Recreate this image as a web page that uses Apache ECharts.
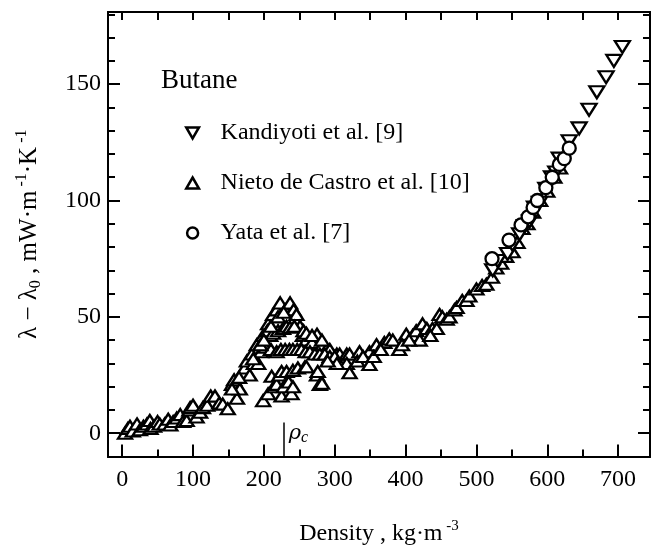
<!DOCTYPE html>
<html><head><meta charset="utf-8">
<script src="https://cdn.jsdelivr.net/npm/echarts@6/dist/echarts.min.js"></script>
<style>html,body{margin:0;padding:0;background:#fff}#c{width:653px;height:551px}</style>
</head><body><div id="c"></div>
<script>
const kandiyoti = [[523,70],[530,74],[544,77],[551,81],[561,85.5],[568,89],[575,91],[582,97],[589,99],[598,105],[606,110],[612,112],[617,118],[631,125.5],[645,131],[659,139],[670,146.5],[683,153],[694,160],[706,166]];
const nieto = [[4,0],[8,2],[11,3],[15,1],[21,4],[25,1.5],[30,3],[35,4],[39,5.5],[40,2],[45,3],[50,5],[53,4],[60,4],[65,6],[68,3.5],[72,5],[77,6.5],[82,8],[86,5],[91,5.5],[95,10],[96,11],[100,12],[105,7],[110,9],[114,11],[120,12],[125,16],[131,16],[137,13],[142,12.5],[149,10.5],[155,21],[158,23],[162,15],[166,19],[170,26],[173,28],[176,31],[180,25],[183,34],[186,30],[190,38],[192,30],[196,35],[199,42],[202,37],[206,47],[209,42],[213,51],[218,53],[223,56],[230,53],[237,56],[242,53],[246,51],[251,46],[255,42],[260,40],[268,39],[275,42.5],[283,38],[288,36],[293,36],[303,34],[307,34],[317,34],[321,34],[335,35],[349,35],[359,38],[370,39],[377,40.5],[382,40],[391,36],[401,42.5],[410,42],[415,44],[420,40],[424,47],[430,45],[438,45],[444,45],[448,51],[452,50],[458,49],[462,50],[469,53],[472,54],[480,57],[486,57],[490,59],[500,62],[508,63.5],[514,64],[522,67],[528,71],[535,73],[542,76],[551,78],[558,82],[565,88],[572,90],[580,95],[590,100],[600,104],[610,110],[618,114],
[205,44],[213,43],[220,44],[227,45],[232,46],[237,45.5],[243,46],[256,44],[260,43],[268,42],[282,40],
[210,36],[218,35],[224,36],[230,36],[236,36],[241,36],[247,36],[253,36],[259,35],[265,35],[272,34],[279,34],[286,34],[293,33],[300,33],
[199,14],[206,17],[211,24.5],[214,20],[218,21],[222,25],[225,26.5],[225,16],[228,20],[232,26.5],[235,22],[239,17],[241,27],[241,20],[248,28],[258,28.6],[275,25],[279,21],[276,26.5],[282,21.5],
[260,28.6],[317,30],[321,26],[332,31],[349,29.5],[303,30],[290,31],[340,33],[355,33],[365,36],[395,38],[405,40],[435,42],
[155,19],[165,24],[185,32],[195,38],[200,40],[210,46],[220,50],[228,52]];
const yata = [[522,75],[546,83],[563,89.5],[573,93],[580,97],[586,100],[598,105.5],[607,110],[617,115.5],[624,118],[631,122.5]];
const xMajorTicks = [0,100,200,300,400,500,600,700];
const xMinorTicks = [50,150,250,350,450,550,650];
const xTopTicks = [0,50,100,150,200,250,300,350,400,450,500,550,600,650,700];
const yMajorTicks = [0,50,100,150];
const yMinorTicks = [10,20,30,40,60,70,80,90,110,120,130,140,160,170,180];
const rhoC = 228;
const rhoMarkTop = 4.6;
const seriesNames = ['Kandiyoti et al. [9]','Nieto de Castro et al. [10]','Yata et al. [7]'];

const FONT = 'Liberation Serif';
const chart = echarts.init(document.getElementById('c'));
const xBase = {type:'value', min:-20, max:745, splitLine:{show:false}, axisLine:{show:true,onZero:false,lineStyle:{color:'#000',width:2}}};
const yBase = {type:'value', min:-10, max:181, splitLine:{show:false}, axisLine:{show:true,onZero:false,lineStyle:{color:'#000',width:2}}};
const tickStyle = {color:'#000', width:2};
const mk = {color:'#fff', borderColor:'#000', borderWidth:2.3, opacity:1};
const icons = {
  down:'path://M0,0L10,0L5,8.66Z',
  up:'path://M5,0L10,8.66L0,8.66Z',
  circ:'path://M5,0A5,5,0,1,1,5,10A5,5,0,1,1,5,0Z'
};
chart.setOption({
  animation:false,
  backgroundColor:'#fff',
  grid:{left:108,right:3,top:12,bottom:85,containLabel:false},
  title:{text:'Butane',left:156,top:62,textStyle:{fontFamily:FONT,fontSize:27,fontWeight:'normal',color:'#000'}},
  legend:{data:[{name:seriesNames[0],icon:icons.down},{name:seriesNames[1],icon:icons.up},{name:seriesNames[2],icon:icons.circ}],
    orient:'vertical',left:180,top:116,itemGap:26,itemWidth:46,itemHeight:11,symbolKeepAspect:true,
    itemStyle:{borderWidth:2.5,borderColor:'#000',color:'#fff',opacity:1},
    textStyle:{fontFamily:FONT,fontSize:24,color:'#000'}},
  xAxis:[
    Object.assign({},xBase,{position:'bottom',name:'Density , kg·m{sup| -3}',nameLocation:'middle',nameGap:62,
      nameTextStyle:{fontFamily:FONT,fontSize:24,color:'#000',rich:{sup:{fontFamily:FONT,fontSize:15,verticalAlign:'top',padding:[0,0,16,0]}}},
      axisTick:{show:true,inside:true,length:12,lineStyle:tickStyle,customValues:xMajorTicks},
      axisLabel:{show:true,customValues:xMajorTicks,fontFamily:FONT,fontSize:24,color:'#000',margin:11}}),
    Object.assign({},xBase,{position:'bottom',axisTick:{show:true,inside:true,length:7,lineStyle:tickStyle,customValues:xMinorTicks},axisLabel:{show:false}}),
    Object.assign({},xBase,{position:'top',axisTick:{show:true,inside:true,length:8,lineStyle:tickStyle,customValues:xTopTicks},axisLabel:{show:false}})
  ],
  yAxis:[
    Object.assign({},yBase,{position:'left',name:'λ − λ{sub|0} , mW·m{sup| -1}·K{sup| -1}',nameLocation:'middle',nameGap:64,nameRotate:90,
      nameTextStyle:{fontFamily:FONT,fontSize:25,color:'#000',rich:{sub:{fontFamily:FONT,fontSize:16,verticalAlign:'bottom',padding:[12,0,0,0]},sup:{fontFamily:FONT,fontSize:16,verticalAlign:'top',padding:[0,0,14,0]}}},
      axisTick:{show:true,inside:true,length:12,lineStyle:tickStyle,customValues:yMajorTicks},
      axisLabel:{show:true,customValues:yMajorTicks,fontFamily:FONT,fontSize:24,color:'#000',margin:7}}),
    Object.assign({},yBase,{position:'left',axisTick:{show:true,inside:true,length:7,lineStyle:tickStyle,customValues:yMinorTicks},axisLabel:{show:false}}),
    Object.assign({},yBase,{position:'right',axisTick:{show:true,inside:true,length:12,lineStyle:tickStyle,customValues:yMajorTicks},axisLabel:{show:false}}),
    Object.assign({},yBase,{position:'right',axisTick:{show:true,inside:true,length:7,lineStyle:tickStyle,customValues:yMinorTicks},axisLabel:{show:false}})
  ],
  series:[
    {name:seriesNames[0],type:'scatter',data:kandiyoti,symbol:'triangle',symbolRotate:180,symbolSize:[15,12],itemStyle:mk,z:3},
    {name:seriesNames[1],type:'scatter',data:nieto,symbol:'triangle',symbolSize:[14,11],itemStyle:mk,z:2,
      markLine:{silent:true,symbol:'none',label:{show:false},lineStyle:{color:'#000',width:1.5,type:'solid'},
        data:[[{coord:[rhoC,-10]},{coord:[rhoC,rhoMarkTop]}]]}},
    {name:seriesNames[2],type:'scatter',data:yata,symbol:'circle',symbolSize:13,itemStyle:mk,z:4}
  ]
});
const p = chart.convertToPixel({xAxisIndex:0,yAxisIndex:0},[rhoC,0]);
chart.setOption({graphic:[{type:'text',left:p[0]+5,top:p[1]-10,style:{text:'{r|ρ}{c|c}',rich:{r:{fontFamily:'DejaVu Serif',fontStyle:'italic',fontSize:21,fill:'#000'},c:{fontFamily:FONT,fontStyle:'italic',fontSize:16,fill:'#000',padding:[9,0,0,0]}}}}]});
</script></body></html>
